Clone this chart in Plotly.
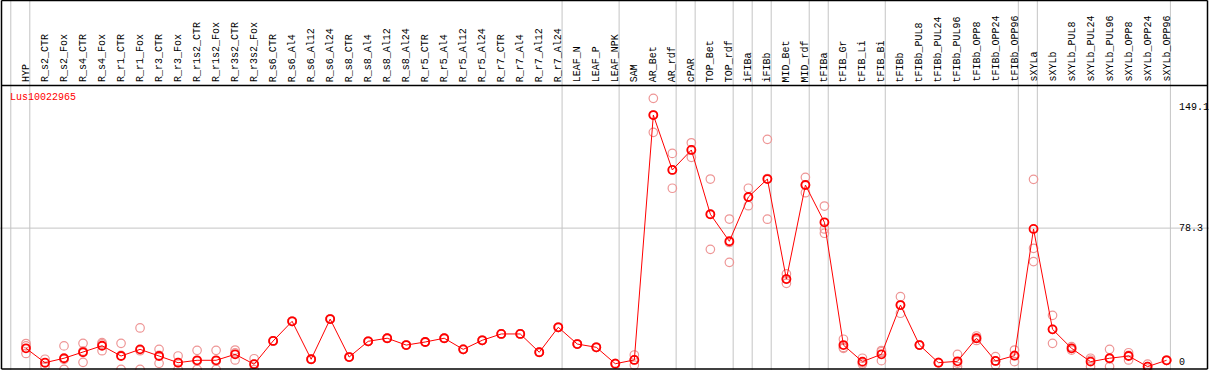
import plotly.graph_objects as go

categories = ["HYP", "R_s2_CTR", "R_s2_Fox", "R_s4_CTR", "R_s4_Fox", "R_r1_CTR", "R_r1_Fox",
              "R_r3_CTR", "R_r3_Fox", "R_r1s2_CTR", "R_r1s2_Fox", "R_r3s2_CTR", "R_r3s2_Fox",
              "R_s6_CTR", "R_s6_Al4", "R_s6_Al12", "R_s6_Al24", "R_s8_CTR", "R_s8_Al4",
              "R_s8_Al12", "R_s8_Al24", "R_r5_CTR", "R_r5_Al4", "R_r5_Al12", "R_r5_Al24",
              "R_r7_CTR", "R_r7_Al4", "R_r7_Al12", "R_r7_Al24", "LEAF_N", "LEAF_P", "LEAF_NPK",
              "SAM", "AR_Bet", "AR_rdf", "cPAR", "TOP_Bet", "TOP_rdf", "iFIBa", "iFIBb",
              "MID_Bet", "MID_rdf", "tFIBa", "tFIB_Gr", "tFIB_Li", "tFIB_Bi", "tFIBb",
              "tFIBb_PUL8", "tFIBb_PUL24", "tFIBb_PUL96", "tFIBb_OPP8", "tFIBb_OPP24", "tFIBb_OPP96",
              "sXYLa", "sXYLb", "sXYLb_PUL8", "sXYLb_PUL24", "sXYLb_PUL96", "sXYLb_OPP8",
              "sXYLb_OPP24", "sXYLb_OPP96"]

means = [8.0, -0.4, 2.2, 5.7, 9.5, 3.5, 7.4, 3.5, -0.4, 1.0, 1.0, 4.5, -1.3,
         12.3, 23.8, 1.6, 25.1, 2.9, 12.1, 13.9, 9.9, 11.7, 13.9, 7.4, 12.7, 16.4, 16.4, 5.7, 20.3,
         10.5, 8.6, -1.0, 1.2,
         144.4, 112.3, 124.0, 86.4, 70.6, 96.5, 107.0, 48.5, 103.5, 81.7,
         9.9, 0.2, 4.5, 33.3, 9.9, -0.4, 0.4, 13.9, 0.6, 3.7,
         77.8, 19.1, 8.0, 0.2, 2.2, 3.5, -2.7, 1.0]

rep_a = [10.8, 1.6, 9.4, 10.9, 11.3, 10.9, 19.9, 7.4, 3.5, 6.8, 6.8, 7.0, 1.9,
         12.3, 23.8, 1.6, 25.1, 2.9, 12.1, 13.9, 9.9, 11.7, 13.9, 7.4, 12.7, 16.4, 16.4, 5.7, 20.3,
         10.5, 8.6, -1.0, 4.1,
         154.2, 122.0, 128.2, 107.0, 83.6, 101.6, 130.2, 51.5, 108.0, 91.2,
         13.3, 2.2, 6.7, 38.2, 9.9, -0.4, 4.5, 15.2, 3.1, 7.0,
         106.8, 27.3, 9.0, 2.2, 7.4, 5.4, -1.3, 1.0]
rep_b = [9.4, -0.5, 1.5, 6.4, 10.6, 3.9, 6.6, 3.9, -0.4, 0.5, 0.5, 5.3, -1.3,
         12.3, 23.8, 1.6, 25.1, 2.9, 12.1, 13.9, 9.9, 11.7, 13.9, 7.4, 12.7, 16.4, 16.4, 5.7, 20.3,
         10.5, 8.6, -1.0, 1.2,
         144.4, 112.3, 124.0, 86.4, 69.9, 96.5, 107.3, 48.5, 103.5, 77.8,
         8.5, -0.4, 6.0, 33.3, 9.9, -0.4, -0.6, 13.9, 0.5, 3.9,
         66.5, 19.1, 8.0, 1.1, 1.9, 3.9, -2.7, 1.0]
rep_c = [5.0, -2.5, -4.3, -0.2, 6.6, -4.3, -4.3, -0.8, -4.3, -4.3, -4.3, 1.2, -4.5,
         12.3, 23.8, 1.6, 25.1, 2.9, 12.1, 13.9, 9.9, 11.7, 13.9, 7.4, 12.7, 16.4, 16.4, 5.7, 20.3,
         10.5, 8.6, -1.0, -1.8,
         134.3, 101.6, 119.7, 65.9, 58.3, 91.4, 83.5, 46.0, 99.0, 75.3,
         8.0, -1.2, 0.8, 28.5, 9.9, -0.4, -2.7, 12.6, -1.8, 0.2,
         58.7, 10.9, 7.0, -2.7, -2.7, 1.2, -4.1, 1.0]

group_ends = [-1, 0, 28, 31, 34, 35, 37, 38, 39, 41, 42, 45, 52, 53, 60]
tick_vals = [0, 78.3, 149.1]
tick_text = ["0", "78.3", "149.1"]
title_text = "Lus10022965"

W, H = 1209, 370
FONT = "Liberation Mono"
idx = list(range(len(categories)))

fig = go.Figure()
rx, ry = [], []
for reps in (rep_a, rep_b, rep_c):
    rx += idx
    ry += reps
fig.add_trace(go.Scatter(x=rx, y=ry, mode="markers",
                         marker=dict(symbol="circle-open", size=8.5, color="rgb(238,150,150)",
                                     line=dict(width=1.2, color="rgb(238,150,150)")),
                         hoverinfo="skip", cliponaxis=True))
fig.add_trace(go.Scatter(x=idx, y=means, mode="lines+markers",
                         line=dict(color="#ff0000", width=1),
                         marker=dict(symbol="circle-open", size=8, color="#ff0000",
                                     line=dict(width=1.8, color="#ff0000"))))

px = lambda p: p / W
py = lambda p: 1 - p / H
shapes = []
for g in group_ends:
    shapes.append(dict(type="line", xref="x", yref="paper", x0=g + 0.2, x1=g + 0.2, y0=0, y1=1,
                       line=dict(color="#c4c4c4", width=1), layer="below"))
shapes.append(dict(type="line", xref="paper", yref="y", x0=0, x1=1, y0=tick_vals[1], y1=tick_vals[1],
                   line=dict(color="#c4c4c4", width=1), layer="below"))
for (x0, y0, x1, y1) in [(1.5, 0.5, 1207.5, 0.5), (1.5, 85.5, 1207.5, 85.5), (1.5, 369, 1207.5, 369),
                         (1.5, 0.5, 1.5, 369), (1207.5, 0.5, 1207.5, 369)]:
    shapes.append(dict(type="line", xref="paper", yref="paper", x0=px(x0), x1=px(x1),
                       y0=py(y0), y1=py(y1), line=dict(color="black", width=1.5)))

annotations = []
for i, c in enumerate(categories):
    annotations.append(dict(x=i, y=py(84), xref="x", yref="paper", text=c, textangle=-90,
                            showarrow=False, xanchor="center", yanchor="bottom",
                            font=dict(family=FONT, size=10, color="black")))
for v, t in zip(tick_vals, tick_text):
    annotations.append(dict(x=px(1177), y=v, xref="paper", yref="y", text=t, showarrow=False,
                            xanchor="left", yanchor="middle",
                            font=dict(family=FONT, size=10, color="black")))
annotations.append(dict(x=px(8), y=py(97), xref="paper", yref="paper", text=title_text,
                        showarrow=False, xanchor="left", yanchor="middle",
                        font=dict(family=FONT, size=10, color="#ff0000")))

x_step = 19.01
fig.update_layout(
    width=W, height=H, margin=dict(l=0, r=0, t=0, b=0),
    paper_bgcolor="white", plot_bgcolor="white", showlegend=False,
    xaxis=dict(range=[-26 / x_step, (W - 26) / x_step], visible=False, fixedrange=True),
    yaxis=dict(range=[-(H - 362) / 1.71, 362 / 1.71], visible=False, fixedrange=True),
    shapes=shapes, annotations=annotations,
)
fig.write_html("out.html", config={"displayModeBar": False},
               post_script="document.body.style.margin='0';document.body.style.overflow='hidden';")
